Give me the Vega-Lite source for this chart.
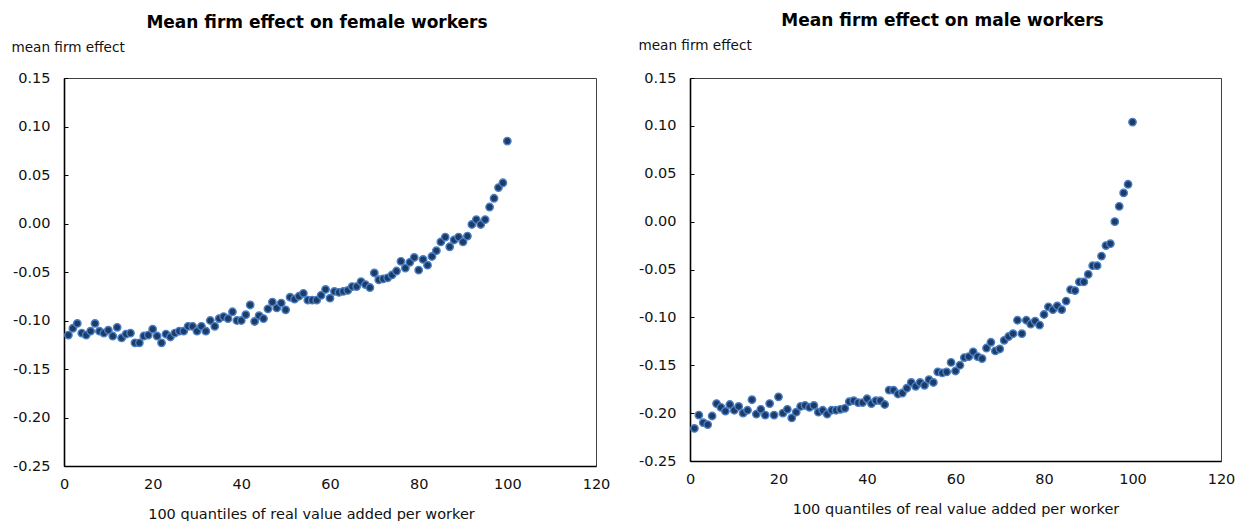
{
  "$schema": "https://vega.github.io/schema/vega-lite/v6.json",
  "padding": {"left": 10, "top": 11, "right": 5, "bottom": 5},
  "background": "white",
  "spacing": 26,
  "config": {
    "font": "DejaVu Sans",
    "view": {"stroke": "#404040", "strokeWidth": 1},
    "axis": {
      "grid": false,
      "domainColor": "#000000",
      "domainWidth": 1.6,
      "labelFont": "DejaVu Sans",
      "labelFontSize": 14.5,
      "labelColor": "#111111",
      "titleFont": "DejaVu Sans",
      "titleFontSize": 14.5,
      "titleFontWeight": "normal",
      "titleColor": "#111111"
    },
    "title": {"font": "DejaVu Sans", "fontSize": 17, "fontWeight": "bold", "color": "#000000"}
  },
  "datasets": {
    "female": [
      {"q": 1, "effect": -0.115}, {"q": 2, "effect": -0.108}, {"q": 3, "effect": -0.103}, {"q": 4, "effect": -0.113}, {"q": 5, "effect": -0.115},
      {"q": 6, "effect": -0.111}, {"q": 7, "effect": -0.103}, {"q": 8, "effect": -0.111}, {"q": 9, "effect": -0.113}, {"q": 10, "effect": -0.110},
      {"q": 11, "effect": -0.116}, {"q": 12, "effect": -0.107}, {"q": 13, "effect": -0.118}, {"q": 14, "effect": -0.114}, {"q": 15, "effect": -0.113},
      {"q": 16, "effect": -0.123}, {"q": 17, "effect": -0.123}, {"q": 18, "effect": -0.116}, {"q": 19, "effect": -0.115}, {"q": 20, "effect": -0.109},
      {"q": 21, "effect": -0.116}, {"q": 22, "effect": -0.123}, {"q": 23, "effect": -0.114}, {"q": 24, "effect": -0.117}, {"q": 25, "effect": -0.113},
      {"q": 26, "effect": -0.111}, {"q": 27, "effect": -0.111}, {"q": 28, "effect": -0.106}, {"q": 29, "effect": -0.106}, {"q": 30, "effect": -0.111},
      {"q": 31, "effect": -0.106}, {"q": 32, "effect": -0.111}, {"q": 33, "effect": -0.100}, {"q": 34, "effect": -0.106}, {"q": 35, "effect": -0.098},
      {"q": 36, "effect": -0.096}, {"q": 37, "effect": -0.098}, {"q": 38, "effect": -0.091}, {"q": 39, "effect": -0.100}, {"q": 40, "effect": -0.100},
      {"q": 41, "effect": -0.094}, {"q": 42, "effect": -0.084}, {"q": 43, "effect": -0.101}, {"q": 44, "effect": -0.095}, {"q": 45, "effect": -0.098},
      {"q": 46, "effect": -0.088}, {"q": 47, "effect": -0.081}, {"q": 48, "effect": -0.087}, {"q": 49, "effect": -0.082}, {"q": 50, "effect": -0.089},
      {"q": 51, "effect": -0.076}, {"q": 52, "effect": -0.078}, {"q": 53, "effect": -0.075}, {"q": 54, "effect": -0.072}, {"q": 55, "effect": -0.079},
      {"q": 56, "effect": -0.079}, {"q": 57, "effect": -0.079}, {"q": 58, "effect": -0.074}, {"q": 59, "effect": -0.068}, {"q": 60, "effect": -0.077},
      {"q": 61, "effect": -0.070}, {"q": 62, "effect": -0.071}, {"q": 63, "effect": -0.070}, {"q": 64, "effect": -0.069}, {"q": 65, "effect": -0.065},
      {"q": 66, "effect": -0.065}, {"q": 67, "effect": -0.060}, {"q": 68, "effect": -0.063}, {"q": 69, "effect": -0.066}, {"q": 70, "effect": -0.051},
      {"q": 71, "effect": -0.058}, {"q": 72, "effect": -0.057}, {"q": 73, "effect": -0.056}, {"q": 74, "effect": -0.053}, {"q": 75, "effect": -0.049},
      {"q": 76, "effect": -0.039}, {"q": 77, "effect": -0.046}, {"q": 78, "effect": -0.040}, {"q": 79, "effect": -0.035}, {"q": 80, "effect": -0.048},
      {"q": 81, "effect": -0.037}, {"q": 82, "effect": -0.043}, {"q": 83, "effect": -0.034}, {"q": 84, "effect": -0.028}, {"q": 85, "effect": -0.019},
      {"q": 86, "effect": -0.014}, {"q": 87, "effect": -0.024}, {"q": 88, "effect": -0.017}, {"q": 89, "effect": -0.014}, {"q": 90, "effect": -0.019},
      {"q": 91, "effect": -0.013}, {"q": 92, "effect": -0.001}, {"q": 93, "effect": 0.004}, {"q": 94, "effect": -0.001}, {"q": 95, "effect": 0.004},
      {"q": 96, "effect": 0.017}, {"q": 97, "effect": 0.026}, {"q": 98, "effect": 0.037}, {"q": 99, "effect": 0.042}, {"q": 100, "effect": 0.085}
    ],
    "male": [
      {"q": 1, "effect": -0.216}, {"q": 2, "effect": -0.202}, {"q": 3, "effect": -0.210}, {"q": 4, "effect": -0.212}, {"q": 5, "effect": -0.203},
      {"q": 6, "effect": -0.190}, {"q": 7, "effect": -0.194}, {"q": 8, "effect": -0.198}, {"q": 9, "effect": -0.191}, {"q": 10, "effect": -0.197},
      {"q": 11, "effect": -0.193}, {"q": 12, "effect": -0.200}, {"q": 13, "effect": -0.197}, {"q": 14, "effect": -0.186}, {"q": 15, "effect": -0.201},
      {"q": 16, "effect": -0.196}, {"q": 17, "effect": -0.202}, {"q": 18, "effect": -0.190}, {"q": 19, "effect": -0.202}, {"q": 20, "effect": -0.183},
      {"q": 21, "effect": -0.200}, {"q": 22, "effect": -0.196}, {"q": 23, "effect": -0.205}, {"q": 24, "effect": -0.199}, {"q": 25, "effect": -0.193},
      {"q": 26, "effect": -0.192}, {"q": 27, "effect": -0.194}, {"q": 28, "effect": -0.192}, {"q": 29, "effect": -0.199}, {"q": 30, "effect": -0.197},
      {"q": 31, "effect": -0.201}, {"q": 32, "effect": -0.197}, {"q": 33, "effect": -0.197}, {"q": 34, "effect": -0.196}, {"q": 35, "effect": -0.195},
      {"q": 36, "effect": -0.188}, {"q": 37, "effect": -0.187}, {"q": 38, "effect": -0.189}, {"q": 39, "effect": -0.189}, {"q": 40, "effect": -0.185},
      {"q": 41, "effect": -0.190}, {"q": 42, "effect": -0.187}, {"q": 43, "effect": -0.187}, {"q": 44, "effect": -0.191}, {"q": 45, "effect": -0.176},
      {"q": 46, "effect": -0.176}, {"q": 47, "effect": -0.180}, {"q": 48, "effect": -0.179}, {"q": 49, "effect": -0.174}, {"q": 50, "effect": -0.168},
      {"q": 51, "effect": -0.172}, {"q": 52, "effect": -0.168}, {"q": 53, "effect": -0.171}, {"q": 54, "effect": -0.165}, {"q": 55, "effect": -0.168},
      {"q": 56, "effect": -0.157}, {"q": 57, "effect": -0.158}, {"q": 58, "effect": -0.157}, {"q": 59, "effect": -0.147}, {"q": 60, "effect": -0.156},
      {"q": 61, "effect": -0.150}, {"q": 62, "effect": -0.142}, {"q": 63, "effect": -0.141}, {"q": 64, "effect": -0.136}, {"q": 65, "effect": -0.141},
      {"q": 66, "effect": -0.143}, {"q": 67, "effect": -0.132}, {"q": 68, "effect": -0.126}, {"q": 69, "effect": -0.135}, {"q": 70, "effect": -0.133},
      {"q": 71, "effect": -0.124}, {"q": 72, "effect": -0.120}, {"q": 73, "effect": -0.117}, {"q": 74, "effect": -0.103}, {"q": 75, "effect": -0.117},
      {"q": 76, "effect": -0.103}, {"q": 77, "effect": -0.107}, {"q": 78, "effect": -0.104}, {"q": 79, "effect": -0.108}, {"q": 80, "effect": -0.097},
      {"q": 81, "effect": -0.089}, {"q": 82, "effect": -0.092}, {"q": 83, "effect": -0.088}, {"q": 84, "effect": -0.092}, {"q": 85, "effect": -0.083},
      {"q": 86, "effect": -0.071}, {"q": 87, "effect": -0.072}, {"q": 88, "effect": -0.063}, {"q": 89, "effect": -0.063}, {"q": 90, "effect": -0.055},
      {"q": 91, "effect": -0.046}, {"q": 92, "effect": -0.046}, {"q": 93, "effect": -0.036}, {"q": 94, "effect": -0.025}, {"q": 95, "effect": -0.023},
      {"q": 96, "effect": 0.000}, {"q": 97, "effect": 0.016}, {"q": 98, "effect": 0.030}, {"q": 99, "effect": 0.039}, {"q": 100, "effect": 0.104}
    ]
  },
  "hconcat": [
    {
      "title": {"text": "Mean firm effect on female workers", "frame": "group", "anchor": "middle", "dx": -13, "offset": 8},
      "width": 532,
      "height": 388,
      "data": {"name": "female"},
      "mark": {"type": "point", "filled": true, "size": 55, "fill": "#1d3b67", "stroke": "#4a7fc4", "strokeWidth": 1.4, "opacity": 1},
      "encoding": {
        "x": {
          "field": "q", "type": "quantitative",
          "scale": {"domain": [0, 120], "nice": false, "zero": false},
          "axis": {"title": "100 quantiles of real value added per worker", "values": [0, 20, 40, 60, 80, 100, 120], "ticks": false, "labelPadding": 11, "labelFlush": false, "titlePadding": 17, "titleX": 247}
        },
        "y": {
          "field": "effect", "type": "quantitative",
          "scale": {"domain": [-0.25, 0.15], "nice": false, "zero": false},
          "axis": {
            "title": "mean firm effect", "titleFontSize": 13.6, "values": [-0.25, -0.2, -0.15, -0.1, -0.05, 0, 0.05, 0.1, 0.15],
            "labelExpr": "replace(format(datum.value, '.2f'), '\u2212', '-')",
            "tickSize": -4, "tickColor": "#000000", "labelPadding": 18,
            "titleAngle": 0, "titleAlign": "left", "titleBaseline": "alphabetic", "titleX": -53, "titleY": -27
          }
        }
      }
    },
    {
      "title": {"text": "Mean firm effect on male workers", "frame": "group", "anchor": "middle", "dx": -13, "offset": 8},
      "width": 531,
      "height": 383,
      "data": {"name": "male"},
      "mark": {"type": "point", "filled": true, "size": 55, "fill": "#1d3b67", "stroke": "#4a7fc4", "strokeWidth": 1.4, "opacity": 1},
      "encoding": {
        "x": {
          "field": "q", "type": "quantitative",
          "scale": {"domain": [0, 120], "nice": false, "zero": false},
          "axis": {"title": "100 quantiles of real value added per worker", "values": [0, 20, 40, 60, 80, 100, 120], "ticks": false, "labelPadding": 11, "labelFlush": false, "titlePadding": 17}
        },
        "y": {
          "field": "effect", "type": "quantitative",
          "scale": {"domain": [-0.25, 0.15], "nice": false, "zero": false},
          "axis": {
            "title": "mean firm effect", "titleFontSize": 13.6, "values": [-0.25, -0.2, -0.15, -0.1, -0.05, 0, 0.05, 0.1, 0.15],
            "labelExpr": "replace(format(datum.value, '.2f'), '\u2212', '-')",
            "tickSize": -4, "tickColor": "#000000", "labelPadding": 18,
            "titleAngle": 0, "titleAlign": "left", "titleBaseline": "alphabetic", "titleX": -52, "titleY": -29
          }
        }
      }
    }
  ]
}
